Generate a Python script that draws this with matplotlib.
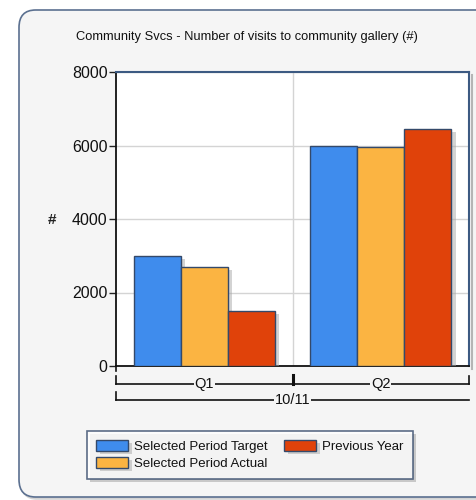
import matplotlib
matplotlib.use("Agg")
import matplotlib.pyplot as plt
import matplotlib.patheffects as pe
from matplotlib.patches import FancyBboxPatch
from matplotlib.transforms import blended_transform_factory
import numpy as np

plt.rcParams['font.family'] = ['Liberation Sans', 'DejaVu Sans']

title = "Community Svcs - Number of visits to community gallery (#)"
quarters = ["Q1", "Q2"]
year_label = "10/11"
series_names = ["Selected Period Target", "Selected Period Actual", "Previous Year"]
target = [3000, 6000]
actual = [2700, 5970]
previous = [1500, 6440]
series_colors = ["#3f8ced", "#fbb442", "#e0420a"]
y_ticks = [0, 2000, 4000, 6000, 8000]

W, H = 476, 500
fig = plt.figure(figsize=(W / 100, H / 100), dpi=100)
fig.patch.set_facecolor("white")

def fy(py):
    return 1 - py / H

def fx(px):
    return px / W

# rounded panel behind everything
panel = FancyBboxPatch((fx(19), fy(497)), fx(520) - fx(19), fy(10) - fy(497),
                       boxstyle="round,pad=0,rounding_size=0.035",
                       transform=fig.transFigure, facecolor="#f5f5f5",
                       edgecolor="#5b7090", linewidth=1.2, zorder=0,
                       path_effects=[pe.SimplePatchShadow(offset=(1, -2), shadow_rgbFace="#c8c8c8", alpha=0.8), pe.Normal()])
fig.add_artist(panel)

ax = fig.add_axes([fx(116), fy(366), fx(469) - fx(116), fy(72) - fy(366)])
ax.set_facecolor("white")

x = np.arange(len(quarters))
bw = 0.8 / 3
for i, (vals, col, name) in enumerate(zip([target, actual, previous], series_colors, series_names)):
    ax.bar(x + (i - 1) * bw, vals, width=bw, color=col, edgecolor="#34496a",
           linewidth=1.0, label=name, zorder=3,
           path_effects=[pe.SimplePatchShadow(offset=(3, -2), shadow_rgbFace="#a8a8a8", alpha=0.5), pe.Normal()])

ax.set_xlim(-0.5, 1.5)
ax.set_ylim(0, 8000)
ax.set_yticks(y_ticks)
ax.set_yticklabels([str(v) for v in y_ticks], fontsize=11.5, color="#111111")
ax.tick_params(axis="y", length=5, width=1, color="#222222", pad=1)
ax.set_xticks([])
ax.grid(axis="y", color="#d4d4d4", linewidth=1, zorder=0)
ax.axvline(0.5, color="#d4d4d4", linewidth=1, zorder=0)

for side in ["left", "bottom"]:
    ax.spines[side].set_color("#111111")
    ax.spines[side].set_linewidth(1.3)
for side in ["top", "right"]:
    ax.spines[side].set_color("#3c5a82")
    ax.spines[side].set_linewidth(1.5)
ax.spines["right"].set_path_effects([pe.SimpleLineShadow(offset=(2, -2), shadow_color="#9a9a9a", alpha=0.7), pe.Normal()])

fig.text(fx(52), fy(220), "#", ha="center", va="center", fontsize=11,
         fontweight="bold", color="#222222")

fig.text(fx(247), fy(37), title, ha="center", va="center", fontsize=9.3, color="#111111")

# grouped category axis below the plot
tr = blended_transform_factory(ax.transData, fig.transFigure)
lk = dict(color="#111111", linewidth=1.2, transform=tr, clip_on=False)
fig.add_artist(plt.Line2D([-0.5, -0.5], [fy(366), fy(371)], **lk))
fig.add_artist(plt.Line2D([-0.5, 1.5], [fy(384), fy(384)], **lk))
fig.add_artist(plt.Line2D([-0.5, -0.5], [fy(376), fy(384)], **lk))
fig.add_artist(plt.Line2D([1.5, 1.5], [fy(376), fy(384)], **lk))
fig.add_artist(plt.Line2D([0.5, 0.5], [fy(375), fy(384)], color="#111111", linewidth=2.2, transform=tr, clip_on=False))
fig.add_artist(plt.Line2D([-0.5, 1.5], [fy(400), fy(400)], **lk))
fig.add_artist(plt.Line2D([-0.5, -0.5], [fy(392), fy(400)], **lk))

tb = dict(boxstyle="square,pad=0.05", facecolor="#f5f5f5", edgecolor="none")
for xi, q in zip(x, quarters):
    fig.text(xi, fy(384), q, transform=tr, ha="center", va="center", fontsize=10.5,
             color="#111111", bbox=tb)
fig.text(0.5, fy(400), year_label, transform=tr, ha="center", va="center", fontsize=10.5,
         color="#111111", bbox=tb)

# legend
leg = fig.legend(loc="upper left", bbox_to_anchor=(fx(87), fy(431)), ncol=2,
                 fontsize=9.5, frameon=True, fancybox=False, handlelength=2.4,
                 handleheight=0.9, handletextpad=0.5, columnspacing=1.2,
                 labelspacing=0.3, borderpad=0.7, borderaxespad=0)
leg.get_frame().set_edgecolor("#34496a")
leg.get_frame().set_linewidth(1.2)
leg.get_frame().set_facecolor("white")
leg.get_frame().set_path_effects([pe.SimplePatchShadow(offset=(2, -2), shadow_rgbFace="#aaaaaa", alpha=0.6), pe.Normal()])
for t in leg.get_texts():
    t.set_color("#111111")

fig.savefig("out.png", dpi=100)
